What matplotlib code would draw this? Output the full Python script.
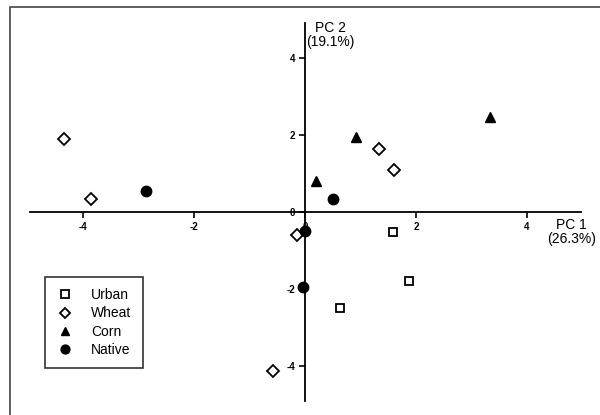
import matplotlib.pyplot as plt
from matplotlib.patches import Rectangle

plt.rcParams['font.family'] = ['Liberation Sans', 'DejaVu Sans']

# PCA scores per land-use group
urban_pc1 = [1.58, 1.88, 0.62]
urban_pc2 = [-0.52, -1.80, -2.48]
wheat_pc1 = [-4.34, -3.85, 1.34, 1.61, -0.15, -0.58]
wheat_pc2 = [1.90, 0.34, 1.64, 1.08, -0.60, -4.12]
corn_pc1 = [3.33, 0.92, 0.20]
corn_pc2 = [2.48, 1.94, 0.80]
native_pc1 = [-2.87, 0.50, 0.00, -0.03]
native_pc2 = [0.55, 0.34, -0.49, -1.94]

ticks = [-4, -2, 0, 2, 4]
tick_labels = ['-4', '-2', '0', '2', '4']

fig = plt.figure(figsize=(6.0, 4.15), dpi=100)
ax = fig.add_axes([0.046, 0.025, 0.925, 0.928])

ax.plot(urban_pc1, urban_pc2, 's', ms=6, mfc='white', mec='black', mew=1.3, ls='none', label='Urban')
ax.plot(wheat_pc1, wheat_pc2, 'D', ms=6.5, mfc='white', mec='black', mew=1.3, ls='none', label='Wheat')
ax.plot(corn_pc1, corn_pc2, '^', ms=7.5, color='black', ls='none', label='Corn')
ax.plot(native_pc1, native_pc2, 'o', ms=7.5, color='black', ls='none', label='Native')

ax.set_xlim(-5, 5)
ax.set_ylim(-5, 5)

# axes cross at the origin
for side in ['top', 'right']:
    ax.spines[side].set_visible(False)
ax.spines['left'].set_position(('data', 0))
ax.spines['bottom'].set_position(('data', 0))
ax.spines['left'].set_bounds(-4.9, 4.9)
ax.spines['bottom'].set_bounds(-4.95, 4.97)
for s in ['left', 'bottom']:
    ax.spines[s].set_linewidth(1.3)

ax.set_xticks(ticks)
ax.set_xticklabels(tick_labels)
ax.set_yticks(ticks)
ax.set_yticklabels(tick_labels)
ax.tick_params(direction='out', length=4, width=1.2, labelsize=7, pad=3)
for lab in ax.get_xticklabels() + ax.get_yticklabels():
    lab.set_fontweight('bold')

ax.text(4.8, -0.15, 'PC 1\n(26.3%)', ha='center', va='top', fontsize=10, linespacing=1.0)
ax.text(0.45, 4.95, 'PC 2\n(19.1%)', ha='center', va='top', fontsize=10, linespacing=1.0)

leg = ax.legend(loc='upper left', bbox_to_anchor=(0.032, 0.331), frameon=True, fancybox=False,
                fontsize=10, handletextpad=1.3, labelspacing=0.3, borderpad=0.8, handlelength=1.2,
                borderaxespad=0, markerscale=0.85)
leg.get_frame().set_edgecolor('black')
leg.get_frame().set_linewidth(1.2)

# outer frame
fig.patches.append(Rectangle((0.017, -0.01), 1.0, 0.993, transform=fig.transFigure,
                             fill=False, edgecolor='#444444', linewidth=1.2))

fig.savefig('out.png', dpi=100)
